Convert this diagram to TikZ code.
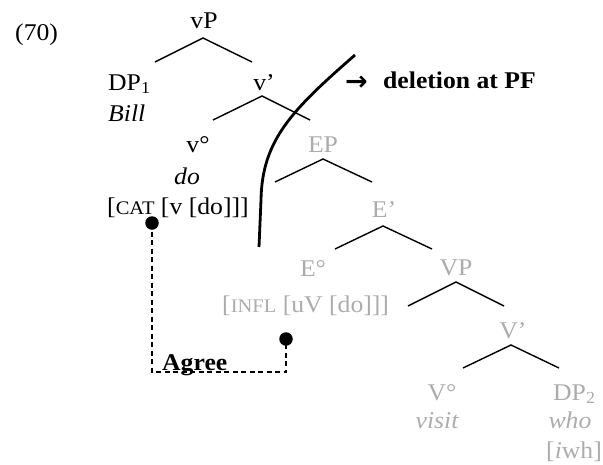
\documentclass[tikz,border=0pt]{standalone}
\usepackage{fontspec}
\setmainfont[FakeStretch=1.07]{Liberation Serif}
\newfontfamily\scfont[FakeStretch=1.07,Scale=0.8]{Liberation Serif}
\newfontfamily\symfont{DejaVu Sans}
\newcommand\fsc[1]{{\scfont #1}}
\definecolor{lightgrey}{RGB}{172,172,172}
\tikzset{
  lbl/.style={inner sep=0pt, anchor=base, font=\fontsize{24}{28}\selectfont},
  lblw/.style={lbl, anchor=base west},
  grey/.style={text=lightgrey},
  branch/.style={line width=1.4pt},
  dotnode/.style={circle, fill=black, inner sep=0pt, minimum size=13.5pt},
  agreeline/.style={line width=1.3pt, dash pattern=on 5pt off 3.5pt},
  pfline/.style={line width=2.8pt}
}
\begin{document}
\begin{tikzpicture}[x=1pt,y=-1pt]
\useasboundingbox (0,0) rectangle (603,464);
% labels
\node[lblw] (n70) at (15,40) {(70)};
\node[lbl] (vP) at (204,28) {vP};
\node[lblw] (DP1) at (108,90) {DP\textsubscript{1}};
\node[lblw] (Bill) at (108,121) {\itshape Bill};
\node[lbl] (vbar) at (264,90) {v’};
\node[lbl] (vdeg) at (198,152) {v°};
\node[lbl] (do) at (187,184) {\itshape do};
\node[lblw] (cat) at (107,214) {[\fsc{CAT} [v [do]]]};
\node[lbl,grey] (EP) at (323,152) {EP};
\node[lbl,grey] (Ebar) at (384,217) {E’};
\node[lbl,grey] (Edeg) at (313,276) {E°};
\node[lblw,grey] (infl) at (222,312) {[\fsc{INFL} [uV [do]]]};
\node[lbl,grey] (VP) at (456,275) {VP};
\node[lbl,grey] (Vbar) at (513,338) {V’};
\node[lbl,grey] (Vdeg) at (442,400) {V°};
\node[lbl,grey] (visit) at (437,428) {\itshape visit};
\node[lblw,grey] (DP2) at (553,400) {DP\textsubscript{2}};
\node[lbl,grey] (who) at (570,428) {\itshape who};
\node[lblw,grey] (iwh) at (546,458) {[\textit{i}wh]};
\node[lblw, font=\fontsize{27}{30}\selectfont] (arr) at (345,90) {\symfont\bfseries →};
\node[lblw] (del) at (383,88) {\bfseries deletion at PF};
% branches
\coordinate (a1) at (203,38); \coordinate (l1) at (155,62); \coordinate (r1) at (252,62);
\coordinate (a2) at (262,96); \coordinate (l2) at (213,120); \coordinate (r2) at (310,120);
\coordinate (a3) at (323,159); \coordinate (l3) at (275,182); \coordinate (r3) at (372,182);
\coordinate (a4) at (383,226); \coordinate (l4) at (335,249); \coordinate (r4) at (432,249);
\coordinate (a5) at (456,282); \coordinate (l5) at (408,306); \coordinate (r5) at (504,306);
\coordinate (a6) at (511,345); \coordinate (l6) at (463,368); \coordinate (r6) at (559,368);
\foreach \i in {1,...,6} { \draw[branch] (l\i) -- (a\i) -- (r\i); }
% PF deletion curve
\coordinate (pfTop) at (355,55);
\coordinate (pfMid) at (261,200);
\coordinate (pfBot) at (259,247);
\draw[pfline] (pfTop) .. controls (292,110) and (262,140) .. (pfMid) -- (pfBot);
% Agree
\node[dotnode] (d1) at (152,223) {};
\node[dotnode] (d2) at (286,339) {};
\coordinate (agc) at (286,372);
\draw[agreeline] (d1.center) -- (d1.center |- agc) -- (agc) -- (d2.center);
\node[lblw] (agree) at (162,370) {\bfseries Agree};
\end{tikzpicture}
\end{document}
